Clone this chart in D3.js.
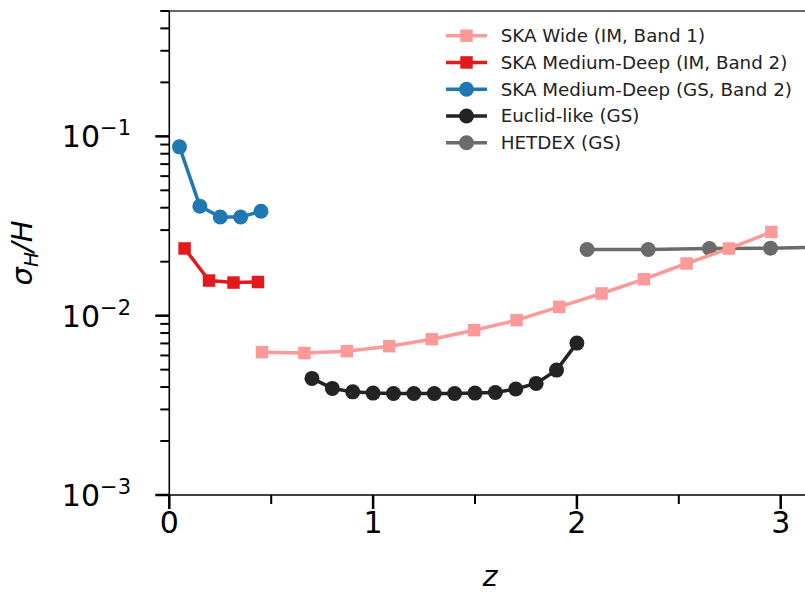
<!DOCTYPE html>
<html><head><meta charset="utf-8">
<script src="https://cdn.jsdelivr.net/npm/d3@7/dist/d3.min.js"></script>
<style>
html,body{margin:0;padding:0;background:#fff;}
svg{display:block;font-family:"DejaVu Sans",sans-serif;}
</style></head>
<body>
<svg id="c" width="805" height="593"></svg>
<script>
// ---- data ----
const skaWideZ   = [0.455,0.663,0.871,1.079,1.288,1.496,1.704,1.913,2.121,2.329,2.538,2.746,2.954];
const skaWideSig = [0.00626,0.00619,0.00634,0.00676,0.00739,0.00830,0.00944,0.01120,0.01330,0.01597,0.01954,0.02368,0.02930];

const skaMdImZ   = [0.075,0.195,0.315,0.435];
const skaMdImSig = [0.0237,0.0157,0.0153,0.0154];

const skaMdGsZ   = [0.05,0.15,0.25,0.35,0.45];
const skaMdGsSig = [0.0874,0.0408,0.0355,0.0355,0.0382];

const euclidZ    = [0.7,0.8,0.9,1.0,1.1,1.2,1.3,1.4,1.5,1.6,1.7,1.8,1.9,2.0];
const euclidSig  = [0.00447,0.00393,0.00376,0.00370,0.00368,0.00368,0.00368,0.00368,0.00370,0.00373,0.00390,0.00419,0.00497,0.00703];

const hetdexZ    = [2.05,2.35,2.65,2.95,3.25];
const hetdexSig  = [0.02337,0.0234,0.02368,0.0238,0.0242];

const seriesNames = ["SKA Wide (IM, Band 1)","SKA Medium-Deep (IM, Band 2)","SKA Medium-Deep (GS, Band 2)","Euclid-like (GS)","HETDEX (GS)"];
const xTicks = [0,1,2,3];
const xMinorTicks = [0.5,1.5,2.5];
const yTickExps = [-3,-2,-1];

// ---- layout ----
const svg = d3.select("#c");
const L = 169.3, T = 11, B = 495;
const x = d3.scaleLinear().domain([0,3.15]).range([L, L + 3.15*203.8]);
const y = d3.scaleLog().domain([1e-3,0.5]).range([B, T]);
const R = x(3.15);

const series = [
  {name:seriesNames[4], z:hetdexZ, s:hetdexSig, color:"#6b6b6b", shape:"circle"},
  {name:seriesNames[3], z:euclidZ, s:euclidSig, color:"#232323", shape:"circle"},
  {name:seriesNames[0], z:skaWideZ, s:skaWideSig, color:"#fb9a99", shape:"square"},
  {name:seriesNames[1], z:skaMdImZ, s:skaMdImSig, color:"#e31a1c", shape:"square"},
  {name:seriesNames[2], z:skaMdGsZ, s:skaMdGsSig, color:"#1f78b4", shape:"circle"},
];

svg.append("defs").append("clipPath").attr("id","clip")
  .append("rect").attr("x",L).attr("y",T).attr("width",R-L).attr("height",B-T);

const plot = svg.append("g").attr("clip-path","url(#clip)");
const line = d3.line().x(d=>x(d[0])).y(d=>y(d[1]));

function marker(g, shape, color, cx, cy){
  if(shape==="circle"){
    g.append("circle").attr("cx",cx).attr("cy",cy).attr("r",7.5).attr("fill",color);
  } else {
    const s=12.5;
    g.append("rect").attr("x",cx-s/2).attr("y",cy-s/2).attr("width",s).attr("height",s).attr("fill",color);
  }
}

series.forEach(se=>{
  const pts = se.z.map((z,i)=>[z,se.s[i]]);
  const g = plot.append("g");
  g.append("path").attr("d",line(pts)).attr("fill","none").attr("stroke",se.color)
    .attr("stroke-width",3.5).attr("stroke-linejoin","round");
  pts.forEach(p=>marker(g,se.shape,se.color,x(p[0]),y(p[1])));
});

// ---- axes ----
const ax = svg.append("g");
ax.append("line").attr("x1",L).attr("x2",L).attr("y1",T).attr("y2",B).attr("stroke","#000").attr("stroke-width",1.6);
ax.append("line").attr("x1",L).attr("x2",R).attr("y1",B).attr("y2",B).attr("stroke","#000").attr("stroke-width",1.6);
ax.append("line").attr("x1",L).attr("x2",R).attr("y1",T).attr("y2",T).attr("stroke","#333").attr("stroke-width",1.6);

xTicks.forEach(t=>{
  ax.append("line").attr("x1",x(t)).attr("x2",x(t)).attr("y1",B).attr("y2",B+14).attr("stroke","#000").attr("stroke-width",2.5);
  ax.append("text").attr("x",x(t)).attr("y",B+38).attr("text-anchor","middle").attr("font-size",30).text(t);
});
xMinorTicks.forEach(t=>{
  ax.append("line").attr("x1",x(t)).attr("x2",x(t)).attr("y1",B).attr("y2",B+9).attr("stroke","#000").attr("stroke-width",2);
});
yTickExps.forEach(e=>{
  const v = Math.pow(10,e);
  ax.append("line").attr("x1",L-14).attr("x2",L).attr("y1",y(v)).attr("y2",y(v)).attr("stroke","#000").attr("stroke-width",2.5);
  const tx = ax.append("text").attr("x",131).attr("y",y(v)+11).attr("text-anchor","end").attr("font-size",30);
  tx.append("tspan").text("10");
  tx.append("tspan").attr("dy",-12).attr("font-size",21).text("\u2212" + Math.abs(e));
});
for(let e=-3;e<=-1;e++){
  for(let m=2;m<=9;m++){
    const v=m*Math.pow(10,e);
    if(v>0.5+1e-9) continue;
    ax.append("line").attr("x1",L-9).attr("x2",L).attr("y1",y(v)).attr("y2",y(v)).attr("stroke","#000").attr("stroke-width",2);
  }
}

ax.append("text").attr("x",490).attr("y",586).attr("text-anchor","middle").attr("font-size",28).attr("font-style","italic").text("z");
const yl = ax.append("text").attr("transform","translate(32,253) rotate(-90)").attr("text-anchor","middle").attr("font-size",29);
yl.append("tspan").attr("font-style","italic").text("σ");
yl.append("tspan").attr("font-style","italic").attr("font-size",20).attr("dy",6).text("H");
yl.append("tspan").attr("font-style","italic").attr("dy",-6).text("/H");

const legOrder = [2,3,4,1,0];
const lg = svg.append("g");
legOrder.forEach((si,i)=>{
  const se = series[si];
  const cy = 35.7 + i*26.75;
  lg.append("line").attr("x1",446).attr("x2",487).attr("y1",cy).attr("y2",cy).attr("stroke",se.color).attr("stroke-width",3.5);
  marker(lg,se.shape,se.color,466.5,cy);
  lg.append("text").attr("x",500.7).attr("y",cy+6.5).attr("font-size",18.3).attr("fill","#222").text(se.name);
});
</script>
</body></html>
